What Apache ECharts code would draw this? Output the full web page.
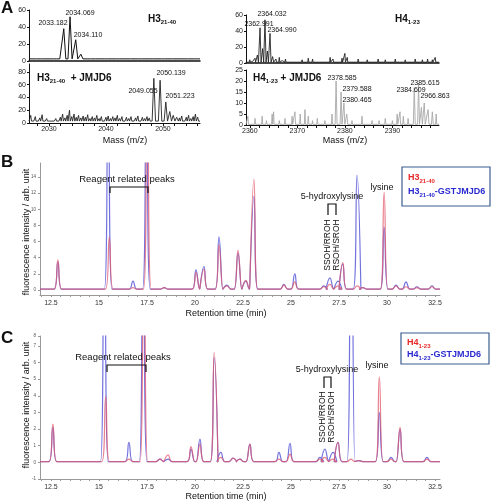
<!DOCTYPE html>
<html><head><meta charset="utf-8">
<script src="https://cdn.jsdelivr.net/npm/echarts@6/dist/echarts.min.js"></script>
<style>html,body{margin:0;padding:0;background:#fff}#c{width:492px;height:502px}</style>
</head><body><div id="c"></div><script>
// ---------- DATA ----------
// Panel A, mass spectra (m/z, intensity)
const aTL_base = 2.5;
const aTL_peaks = [[2032.6,38],[2033.7,52],[2034.7,25],[2035.6,8]];
const aTL_noise = [[2027.5,3.4],[2029,3.1],[2030.5,3.6],[2031.6,3.0],[2037,3.5],[2038.5,3.0],[2040,3.3],[2042.1,4.6],[2044,3.2],[2046,3.6],[2048,3.0],[2050,3.4],[2052,3.2],[2054,3.6],[2055.8,4.6]];
const aBL_base = 3;
const aBL_peaks = [[2048.4,70],[2049.5,67],[2050.5,33],[2051.2,18],[2051.8,12],[2052.4,9]];
const aBL_noise = [[2026.8,12],[2027.2,6],[2027.6,10],[2028.0,5],[2028.4,8],[2028.8,13],[2029.2,5],[2029.6,7],[2030.0,4],[2030.4,6],[2030.8,5],[2031.2,7],[2031.6,5],[2032.0,9],[2032.4,14],[2032.8,8],[2033.2,12],[2033.6,20],[2034.0,10],[2034.4,14],[2034.8,9],[2035.2,12],[2035.6,8],[2036.0,11],[2036.4,9],[2036.8,13],[2037.2,7],[2037.6,10],[2038.0,8],[2038.4,12],[2038.8,7],[2039.2,10],[2039.6,6],[2040.0,9],[2040.4,11],[2040.8,7],[2041.2,10],[2041.6,8],[2042.0,12],[2042.4,7],[2042.8,10],[2043.2,6],[2043.6,9],[2044.0,7],[2044.4,10],[2044.8,6],[2045.2,8],[2045.6,11],[2046.0,6],[2046.4,9],[2046.8,7],[2047.2,10],[2047.6,8],[2052.9,8],[2053.3,11],[2053.7,6],[2054.1,9],[2054.5,12],[2054.9,7],[2055.3,10],[2055.7,14],[2056.1,9]];
const aTR_base = 1;
const aTR_peaks = [[2361.6,10],[2362.15,44],[2362.7,18],[2363.2,54],[2363.7,15],[2364.25,37],[2364.8,8]];
const aTR_noise = [[2360,4],[2360.6,2],[2361.1,6],[2365.5,5],[2366.2,7],[2366.8,3],[2367.5,5],[2368.5,3],[2370,2],[2371,4],[2372.3,6],[2373.2,5],[2374.5,3],[2376.9,7],[2377.5,5],[2378.5,3],[2379.4,6],[2380,12],[2380.5,7],[2381.4,3],[2382.8,5],[2384.7,4],[2386,2],[2387,5],[2388.5,4],[2389.6,2],[2390.6,5],[2391.6,2],[2392.7,4],[2393.8,2],[2394.8,5],[2396.3,4],[2397.4,5],[2398.4,4],[2399,7]];
const aBR_base = 0.3;
const aBR_peaks = [[2378.15,20],[2379.2,15],[2379.8,10],[2380.4,5],[2394.6,17],[2395.5,19],[2396.1,8],[2396.7,10],[2397.5,7],[2398.4,6]];
const aBR_noise = [[2359.6,4],[2361.1,3],[2362.6,4],[2363.5,2],[2364.7,5],[2365.0,6],[2366.2,2],[2367.4,3],[2368.9,4],[2369.5,6],[2370.6,5],[2371.6,7],[2372.3,4],[2373.2,2],[2374.2,3],[2375.8,2],[2377.3,5],[2381.5,2],[2383.6,4],[2385.7,2],[2387.2,2],[2388.5,3],[2390.0,2],[2391.0,5],[2391.6,6],[2392.3,4],[2393.3,3],[2399.2,5]];
const aTL_ticks = [0,20,40,60];
const aBL_ticks = [0,20,40,60,80];
const aL_xlabels = [2030,2040,2050];
const aR_xlabels = [2360,2370,2380,2390];

// Panels B and C, chromatograms (retention time min, fluorescence)
const rtLabels = [12.5,15,17.5,20,22.5,25,27.5,30,32.5];
const bBase = 0.1;
const bRed = [[12.86,3.75],[15.54,6.6],[16.77,0.3],[17.52,30],[18.4,0.3],[20.05,2.2],[20.47,2.6],[21.25,5.6],[21.67,0.5],[22.24,4.9],[22.65,1.2],[23.07,13.75],[24.63,0.6],[25.2,1.0],[26.7,0.4],[27.03,0.7],[27.45,0.5],[27.7,3.4],[28.44,0.5],[28.75,0.3],[29.85,12.1],[30.47,0.5],[30.99,0.4],[31.56,0.3],[32.34,0.4]];
const bBlue = [[12.86,3.5],[15.48,30],[16.77,1.1],[17.47,30],[18.4,0.3],[20.05,2.5],[20.47,2.9],[21.25,6.6],[21.67,0.6],[22.24,4.6],[22.65,1.1],[23.07,11.6],[24.63,0.7],[25.2,2.0],[26.7,0.5],[27.03,1.5],[27.45,1.1],[27.7,3.2],[28.44,14.25],[28.75,0.3],[29.85,7.75],[30.47,0.6],[30.99,1.0],[31.56,0.4],[32.34,0.5]];
const bYLabels = [0,2,4,6,8,10,12,14];
const cBase = 0.05;
const cRed = [[12.6,2.3],[15.35,3.95],[16.56,0.2],[17.34,20],[18.18,0.2],[18.6,0.45],[19.79,0.95],[20.26,1.1],[21.0,6.6],[21.35,0.3],[21.98,0.25],[22.34,0.2],[22.86,1.1],[24.37,0.2],[24.95,0.5],[26.5,0.2],[26.77,0.3],[27.19,0.2],[27.45,1.2],[28.12,0.2],[28.54,0.1],[29.6,5.15],[30.21,0.2],[30.68,2.1],[32.08,0.2]];
const cBlue = [[12.6,2.1],[15.28,20],[16.56,1.2],[17.3,20],[18.18,0.2],[18.6,0.2],[19.79,0.8],[20.26,1.4],[21.0,6.3],[21.35,0.6],[21.98,0.25],[22.34,0.2],[22.86,1.1],[24.37,0.6],[24.95,1.15],[26.5,0.3],[26.77,0.8],[27.19,0.6],[27.45,1.2],[28.12,20],[28.54,0.1],[29.6,3.0],[30.21,0.3],[30.68,2.0],[32.08,0.3]];

// ---------- BUILD ----------
const FONT = 'Liberation Sans, Arial, Helvetica, sans-serif';
const X = {
  aL:[2026.5,2056.5], aR:[2359.2,2399.8], rt:[11.93,32.76]
};
function toLine(base, groups, ext){
  const items=[];
  groups.forEach(([list,w])=>list.forEach(p=>items.push([p[0],p[1],w])));
  items.sort((a,b)=>a[0]-b[0]);
  const out=[[ext[0],base]];
  items.forEach(([x,h,w])=>{out.push([x-w,base],[x,h],[x+w,base]);});
  out.push([ext[1],base]);
  return out;
}
function range(a,b,s){const r=[];for(let v=a;v<=b+1e-9;v+=s)r.push(+v.toFixed(3));return r;}

const grids = [
  {left:29, top:10, width:171, height:51},
  {left:29, top:64, width:171, height:59},
  {left:246, top:15, width:193, height:48},
  {left:246, top:70, width:193, height:55},
  {left:40, top:163, width:400, height:132},
  {left:40, top:336, width:400, height:143}
];
const aLbl = {fontSize:7, color:'#222', fontFamily:FONT, margin:3, formatter:v=>String(v)};
function msX(i, ext, labels, ticks, thick){
  return {type:'value', gridIndex:i, min:ext[0], max:ext[1],
    axisLine:{show:true, onZero:false, lineStyle:{color:'#111', width:thick?1.5:1}},
    splitLine:{show:false},
    axisTick: ticks? {show:true, length:3, lineStyle:{color:'#111'}, customValues:ticks} : {show:false},
    axisLabel: labels? Object.assign({show:true, customValues:labels}, aLbl) : {show:false}};
}
function msY(i, max, labels){
  return {type:'value', gridIndex:i, min:0, max:max,
    axisLine:{show:true, lineStyle:{color:'#111'}}, splitLine:{show:false},
    axisTick:{show:true, length:2, lineStyle:{color:'#111'}, customValues:labels},
    axisLabel:Object.assign({customValues:labels}, aLbl)};
}
function rtX(i){
  return {type:'value', gridIndex:i, min:X.rt[0], max:X.rt[1],
    axisLine:{show:true, onZero:false, lineStyle:{color:'#999'}}, splitLine:{show:false},
    axisTick:{show:true, length:2, lineStyle:{color:'#999'}, customValues:range(12,32.5,0.5)},
    axisLabel:{customValues:rtLabels, fontSize:7, color:'#333', fontFamily:FONT, margin:5, formatter:v=>String(v)}};
}
const xAxes = [
  msX(0, X.aL, null, null, true),
  msX(1, X.aL, aL_xlabels, range(2028,2056,2), false),
  msX(2, X.aR, null, null, true),
  msX(3, X.aR, aR_xlabels, range(2360,2398,2), false),
  rtX(4), rtX(5)
];
const yAxes = [
  msY(0, 60, aTL_ticks),
  msY(1, 92.5, aBL_ticks),
  msY(2, 60, aTL_ticks),
  msY(3, 25, [0,5,10,15,20,25]),
  {type:'value', gridIndex:4, min:-0.62, max:15.74,
    axisLine:{show:true, lineStyle:{color:'#999'}}, splitLine:{show:false},
    axisTick:{show:true, length:2, lineStyle:{color:'#999'}, customValues:bYLabels},
    axisLabel:{customValues:bYLabels, fontSize:4.5, color:'#555', fontFamily:FONT, margin:4}},
  {type:'value', gridIndex:5, min:-1, max:7.6, interval:1,
    axisLine:{show:true, lineStyle:{color:'#999'}}, splitLine:{show:false},
    axisTick:{show:true, length:2, lineStyle:{color:'#999'}},
    axisLabel:{fontSize:4.5, color:'#555', fontFamily:FONT, margin:4, formatter:v=>Math.round(v)}}
];
function ln(i, data, color, w, smooth, op){
  return {type:'line', xAxisIndex:i, yAxisIndex:i, data, symbol:'none', smooth:smooth||false,
    clip:true, silent:true, lineStyle:{color, width:w, opacity:op==null?1:op}};
}
const series = [
  ln(0, toLine(aTL_base,[[aTL_peaks,0.36],[aTL_noise,0.3]],X.aL), '#111', 1),
  ln(1, toLine(aBL_base,[[aBL_peaks,0.3],[aBL_noise,0.14]],X.aL), '#222', 0.9),
  ln(2, toLine(aTR_base,[[aTR_peaks,0.22],[aTR_noise,0.12]],X.aR), '#222', 0.9),
  ln(3, toLine(aBR_base,[[aBR_peaks,0.2],[aBR_noise,0.12]],X.aR), '#a8a8a8', 0.9),
  ln(4, toLine(bBase,[[bBlue,0.2]],X.rt), '#5a5ad8', 1.2, 0.45, 0.85),
  ln(4, toLine(bBase,[[bRed,0.2]],X.rt), '#e2586c', 1.2, 0.45, 0.75),
  ln(5, toLine(cBase,[[cBlue,0.2]],X.rt), '#5a5ad8', 1.2, 0.45, 0.85),
  ln(5, toLine(cBase,[[cRed,0.2]],X.rt), '#e2586c', 1.2, 0.45, 0.75)
];

// ---------- GRAPHIC TEXT ----------
function T(text, x, y, o){
  o=o||{};
  return {type:'text', silent:true, x, y, rotation:o.rot||0, z:100, style:Object.assign({
    text, fill:o.fill||'#111', font:(o.weight||'normal')+' '+(o.size||7)+'px '+FONT,
    align:o.align||'center', verticalAlign:o.va||'middle',
    textAlign:o.align||'center', textVerticalAlign:o.va||'middle'}, o.rich?{rich:o.rich}:{})};
}
function sub(size, color, weight){
  return {
    m:{fontSize:size, fontWeight:weight||'bold', fontFamily:FONT, fill:color, lineHeight:size+3},
    s:{fontSize:Math.round(size*0.62), fontWeight:weight||'bold', fontFamily:FONT, fill:color, lineHeight:Math.round(size*0.62)+1, verticalAlign:'bottom'},
    n:{fontSize:size, fontWeight:weight||'bold', fontFamily:FONT, fill:color, lineHeight:size+3}
  };
}
function P(points, color){
  return {type:'polyline', silent:true, z:100, shape:{points}, style:{stroke:color||'#111', lineWidth:1.2, fill:null}};
}
const graphics = [
  T('A', 1, 8, {size:17, weight:'bold', align:'left'}),
  T('B', 1, 162, {size:17, weight:'bold', align:'left'}),
  T('C', 1, 338, {size:17, weight:'bold', align:'left'}),
  // panel A labels
  T('2033.182', 53, 23), T('2034.069', 80, 13), T('2034.110', 88, 35),
  T('{m|H3}{s|21-40}', 148, 19, {align:'left', rich:sub(10,'#111')}),
  T('{m|H3}{s|21-40}{n|  + JMJD6}', 37, 78, {align:'left', rich:sub(10,'#111')}),
  T('2049.055', 143, 91), T('2050.139', 171, 73), T('2051.223', 180, 96),
  T('2362.991', 259, 24), T('2364.032', 272, 14), T('2364.990', 282, 30),
  T('{m|H4}{s|1-23}', 395, 19, {align:'left', rich:sub(10,'#111')}),
  T('{m|H4}{s|1-23}{n| + JMJD6}', 253, 78, {align:'left', rich:sub(10,'#111')}),
  T('2378.585', 342, 78), T('2379.588', 357, 89), T('2380.465', 357, 100),
  T('2385.615', 425, 83), T('2384.609', 411, 90), T('2966.863', 435, 96),
  T('Mass (m/z)', 125, 141, {size:9}), T('Mass (m/z)', 345, 141, {size:9}),
  // panel B
  T('Reagent related peaks', 127, 179, {size:9.5}),
  P([[110,193],[110,187],[148,187],[148,193]]),
  T('5-hydroxylysine', 332, 197, {size:9}),
  P([[328,215],[328,204],[336,204],[336,215]]),
  T('SSOH/RROH', 328, 245, {size:8.5, rot:Math.PI/2}),
  T('RSOH/SROH', 337, 245, {size:8.5, rot:Math.PI/2}),
  T('lysine', 382, 188, {size:9}),
  {type:'rect', silent:true, z:90, shape:{x:402, y:167, width:88, height:39}, style:{fill:'#fff', stroke:'#3b5d8f', lineWidth:1.2}},
  T('{m|H3}{s|21-40}', 408, 178, {align:'left', rich:sub(9,'#e82828')}),
  T('{m|H3}{s|21-40}{n|-GSTJMJD6}', 408, 192, {align:'left', rich:sub(9,'#2a2ad0')}),
  T('Retention time (min)', 226, 314, {size:9}),
  T('fluorescence intensity / arb. unit', 27, 232, {size:9, rot:Math.PI/2}),
  // panel C
  T('Reagent related peaks', 123, 357, {size:9.5}),
  P([[107,372],[107,365],[146,365],[146,372]]),
  T('5-hydroxylysine', 327, 370, {size:9}),
  P([[324,388],[324,377],[331,377],[331,388]]),
  T('SSOH/RROH', 323, 417, {size:8.5, rot:Math.PI/2}),
  T('RSOH/SROH', 332, 417, {size:8.5, rot:Math.PI/2}),
  T('lysine', 377, 366, {size:9}),
  {type:'rect', silent:true, z:90, shape:{x:401, y:333, width:88, height:31}, style:{fill:'#fff', stroke:'#3b5d8f', lineWidth:1.2}},
  T('{m|H4}{s|1-23}', 407, 343, {align:'left', rich:sub(9,'#e82828')}),
  T('{m|H4}{s|1-23}{n|-GSTJMJD6}', 407, 355, {align:'left', rich:sub(9,'#2a2ad0')}),
  T('Retention time (min)', 226, 497, {size:9}),
  T('fluorescence intensity / arb. unit', 27, 405, {size:9, rot:Math.PI/2})
];

const chart = echarts.init(document.getElementById('c'));
chart.setOption({
  animation:false, backgroundColor:'#fff',
  grid:grids, xAxis:xAxes, yAxis:yAxes, series, graphic:graphics
});
</script></body></html>
